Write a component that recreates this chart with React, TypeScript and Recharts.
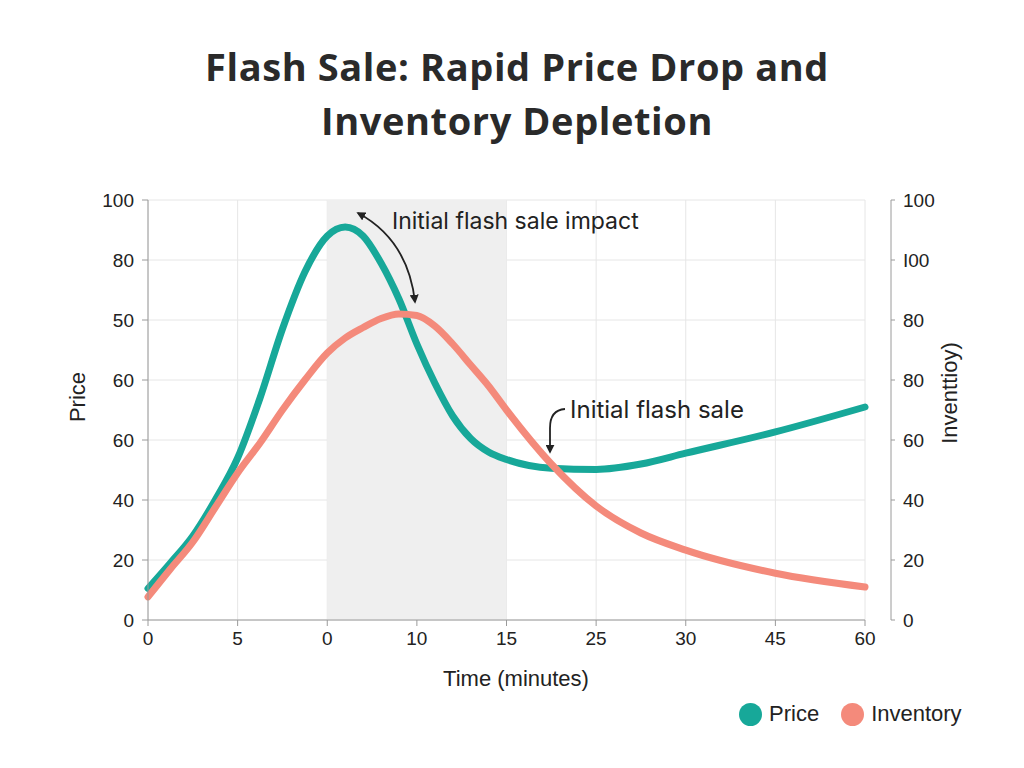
import React from "react";
import {
  LineChart,
  Line,
  XAxis,
  YAxis,
  CartesianGrid,
  ReferenceArea,
} from "recharts";

const minutes = [0, 2.5, 5, 7.5, 10, 12.5, 15, 17.5, 20, 22, 24, 26, 28, 30, 32, 34, 36, 38, 40, 45, 50, 55, 60, 70, 80];
const price = [10.5, 19, 28, 40, 54, 74, 97, 116, 128, 131, 128, 119, 107, 92, 79, 68, 60.5, 56, 53.5, 50.6, 50.2, 52, 55.6, 62.7, 71];
const inventory = [7.7, 17, 26, 37.5, 49, 59, 70, 80, 89, 94, 97.5, 100.5, 102, 101.5, 98, 92, 85, 78, 70, 52, 38, 29, 23.3, 15.6, 11];

const xTicks = [0, 10, 20, 30, 40, 50, 60, 70, 80];
const xTickLabels = ["0", "5", "0", "10", "15", "25", "30", "45", "60"];
const yTicks = [0, 20, 40, 60, 80, 100, 120, 140];
const priceTickLabels = ["0", "20", "40", "60", "60", "50", "80", "100"];
const inventoryTickLabels = ["0", "20", "40", "60", "80", "80", "I00", "100"];

const TEAL = "#17a899";
const SALMON = "#f48a7b";
const AXIS = "#9a9a9a";
const TEXT = "#222222";
const FONT = "Liberation Sans, Arial, sans-serif";

const data = minutes.map((t, i) => ({ t, price: price[i], inventory: inventory[i] }));

const tickStyle = { fontFamily: FONT, fontSize: 19, fill: TEXT };

const legendItems = [
  { name: "Price", color: TEAL },
  { name: "Inventory", color: SALMON },
];

// right axis sits a bit away from the plot, so the line + ticks are drawn per tick
const RIGHT_GAP = 26;
const STEP = 60;

function RightTick(props: any) {
  const { x, y, payload, index } = props;
  const ax = x + RIGHT_GAP;
  return (
    <g>
      {index > 0 && <line x1={ax} y1={y} x2={ax} y2={y + STEP} stroke={AXIS} />}
      <line x1={ax} y1={y} x2={ax + 4} y2={y} stroke={AXIS} />
      <text x={ax + 12} y={y} dy="0.355em" textAnchor="start" fontFamily={FONT} fontSize={19} fill={TEXT}>
        {inventoryTickLabels[yTicks.indexOf(payload.value)]}
      </text>
    </g>
  );
}

export default function App() {
  return (
    <div style={{ position: "relative", width: 1024, height: 768, margin: -8, background: "#fff" }}>
      <LineChart
        width={1024}
        height={768}
        data={data}
        margin={{ top: 200, right: 33, bottom: 88, left: 0 }}
      >
        <ReferenceArea x1={20} x2={40} yAxisId="left" fill="#efefef" fillOpacity={1} stroke="none" />
        <CartesianGrid stroke="#e6e6e6" yAxisId="left" />
        <XAxis
          dataKey="t"
          type="number"
          domain={[0, 80]}
          ticks={xTicks}
          tickFormatter={(v: number) => xTickLabels[xTicks.indexOf(v)]}
          tick={tickStyle}
          stroke={AXIS}
          tickSize={6}
          tickMargin={6}
          height={60}
        />
        <YAxis
          yAxisId="left"
          domain={[0, 140]}
          ticks={yTicks}
          tickFormatter={(v: number) => priceTickLabels[yTicks.indexOf(v)]}
          tick={tickStyle}
          stroke={AXIS}
          tickSize={6}
          tickMargin={8}
          width={148}
        />
        <YAxis
          yAxisId="right"
          orientation="right"
          domain={[0, 140]}
          ticks={yTicks}
          tick={<RightTick />}
          axisLine={false}
          tickLine={false}
          tickSize={0}
          tickMargin={0}
          width={126}
        />
        <Line
          yAxisId="left"
          dataKey="price"
          name="Price"
          type="monotone"
          stroke={TEAL}
          strokeWidth={7}
          strokeLinecap="round"
          dot={false}
          isAnimationActive={false}
        />
        <Line
          yAxisId="right"
          dataKey="inventory"
          name="Inventory"
          type="monotone"
          stroke={SALMON}
          strokeWidth={7}
          strokeLinecap="round"
          dot={false}
          isAnimationActive={false}
        />
      </LineChart>
      <div
        style={{
          position: "absolute",
          left: 739,
          top: 701,
          display: "flex",
          alignItems: "center",
          fontFamily: FONT,
          fontSize: 22,
          color: TEXT,
        }}
      >
        {legendItems.map((it) => (
          <div key={it.name} style={{ display: "flex", alignItems: "center", marginRight: 22 }}>
            <span style={{ width: 23, height: 23, borderRadius: 12, background: it.color, display: "inline-block", marginRight: 7 }} />
            {it.name}
          </div>
        ))}
      </div>
      <svg
        width={1024}
        height={768}
        style={{ position: "absolute", left: 0, top: 0, pointerEvents: "none" }}
      >
        <defs>
          <marker id="head" viewBox="0 0 10 10" refX="8" refY="5" markerWidth="5" markerHeight="5" orient="auto-start-reverse">
            <path d="M0,0 L10,5 L0,10 z" fill="#222" />
          </marker>
        </defs>
        <text x={517} y={81} textAnchor="middle" fontFamily="Open Sans, sans-serif" fontWeight={700} fontSize={38} letterSpacing={0.6} fill="#2a2a2a">
          Flash Sale: Rapid Price Drop and
        </text>
        <text x={517} y={135} textAnchor="middle" fontFamily="Open Sans, sans-serif" fontWeight={700} fontSize={38} letterSpacing={0.6} fill="#2a2a2a">
          Inventory Depletion
        </text>
        <text x={77} y={397} transform="rotate(-90 77 397)" textAnchor="middle" dominantBaseline="central" fontFamily={FONT} fontSize={22} fill={TEXT}>
          Price
        </text>
        <text x={516} y={678} textAnchor="middle" dominantBaseline="central" fontFamily={FONT} fontSize={22} fill={TEXT}>
          Time (minutes)
        </text>
        <text x={949} y={393} transform="rotate(-90 949 393)" textAnchor="middle" dominantBaseline="central" fontFamily={FONT} fontSize={22} fill={TEXT}>
          Inventtioy)
        </text>
        <text x={392} y={229} fontFamily="Inter, sans-serif" fontSize={23} fill={TEXT}>
          Initial flash sale impact
        </text>
        <text x={570} y={418} fontFamily="Inter, sans-serif" fontSize={24} fill={TEXT}>
          Initial flash sale
        </text>
        <path d="M358,213 Q408,240 415,302" fill="none" stroke="#222" strokeWidth={1.8} markerStart="url(#head)" markerEnd="url(#head)" />
        <path d="M565,409 Q550,410 550,428 L550,452" fill="none" stroke="#222" strokeWidth={1.8} markerEnd="url(#head)" />
      </svg>
    </div>
  );
}
